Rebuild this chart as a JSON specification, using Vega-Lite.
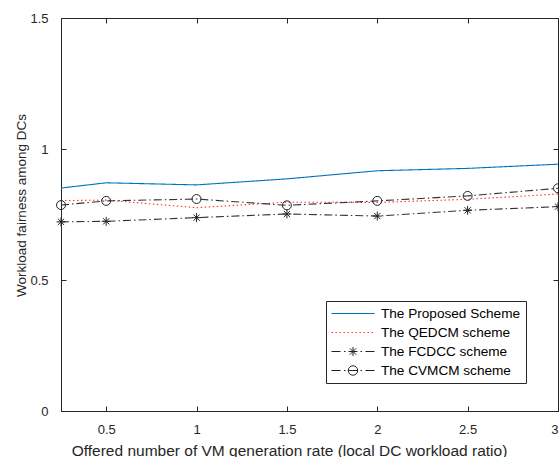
{
  "$schema": "https://vega.github.io/schema/vega-lite/v6.json",
  "autosize": {"type": "none"},
  "padding": {"left": 61, "top": 18, "right": 1, "bottom": 46},
  "width": 497,
  "height": 393,
  "background": "white",
  "config": {
    "font": "Liberation Sans",
    "view": {"stroke": "#262626", "strokeWidth": 1},
    "axis": {
      "grid": false,
      "domainColor": "#262626",
      "tickColor": "#262626",
      "labelColor": "#262626",
      "titleColor": "#262626",
      "labelFont": "Liberation Sans",
      "titleFont": "Liberation Sans",
      "labelFontSize": 13,
      "titleFontWeight": "normal",
      "tickSize": -5,
      "tickWidth": 1,
      "domainWidth": 1
    },
    "legend": {
      "labelFont": "Liberation Sans",
      "labelFontSize": 13.6,
      "labelColor": "#000000",
      "symbolOpacity": 1,
      "symbolStrokeWidth": 1,
      "symbolSize": 1849,
      "clipHeight": 15,
      "labelOffset": 6,
      "padding": 5,
      "rowPadding": 4,
      "fillColor": "white",
      "strokeColor": "#262626"
    }
  },
  "data": {
    "values": [
      {"series": "The Proposed Scheme", "rate": 0.25, "fairness": 0.851},
      {"series": "The Proposed Scheme", "rate": 0.5, "fairness": 0.871},
      {"series": "The Proposed Scheme", "rate": 1, "fairness": 0.863},
      {"series": "The Proposed Scheme", "rate": 1.5, "fairness": 0.886},
      {"series": "The Proposed Scheme", "rate": 2, "fairness": 0.917},
      {"series": "The Proposed Scheme", "rate": 2.5, "fairness": 0.926},
      {"series": "The Proposed Scheme", "rate": 3, "fairness": 0.942},
      {"series": "The QEDCM scheme", "rate": 0.25, "fairness": 0.803},
      {"series": "The QEDCM scheme", "rate": 0.5, "fairness": 0.805},
      {"series": "The QEDCM scheme", "rate": 1, "fairness": 0.776},
      {"series": "The QEDCM scheme", "rate": 1.5, "fairness": 0.797},
      {"series": "The QEDCM scheme", "rate": 2, "fairness": 0.796},
      {"series": "The QEDCM scheme", "rate": 2.5, "fairness": 0.808},
      {"series": "The QEDCM scheme", "rate": 3, "fairness": 0.828},
      {"series": "The FCDCC scheme", "rate": 0.25, "fairness": 0.722},
      {"series": "The FCDCC scheme", "rate": 0.5, "fairness": 0.724},
      {"series": "The FCDCC scheme", "rate": 1, "fairness": 0.738},
      {"series": "The FCDCC scheme", "rate": 1.5, "fairness": 0.752},
      {"series": "The FCDCC scheme", "rate": 2, "fairness": 0.744},
      {"series": "The FCDCC scheme", "rate": 2.5, "fairness": 0.766},
      {"series": "The FCDCC scheme", "rate": 3, "fairness": 0.780},
      {"series": "The CVMCM scheme", "rate": 0.25, "fairness": 0.786},
      {"series": "The CVMCM scheme", "rate": 0.5, "fairness": 0.802},
      {"series": "The CVMCM scheme", "rate": 1, "fairness": 0.809},
      {"series": "The CVMCM scheme", "rate": 1.5, "fairness": 0.785},
      {"series": "The CVMCM scheme", "rate": 2, "fairness": 0.802},
      {"series": "The CVMCM scheme", "rate": 2.5, "fairness": 0.821},
      {"series": "The CVMCM scheme", "rate": 3, "fairness": 0.850}
    ]
  },
  "resolve": {
    "scale": {"shape": "independent", "stroke": "independent"},
    "axis": {"x": "independent", "y": "independent"}
  },
  "layer": [
    {
      "mark": {"type": "line", "strokeWidth": 1.1, "clip": true},
      "encoding": {
        "x": {
          "field": "rate", "type": "quantitative",
          "scale": {"domain": [0.25, 3], "nice": false, "zero": false},
          "axis": {
            "values": [0.5, 1, 1.5, 2, 2.5, 3],
            "format": "~g",
            "labelPadding": 17,
            "title": "Offered number of VM generation rate (local DC workload ratio)",
            "titleFontSize": 15.5,
            "titlePadding": 7,
            "titleX": 228
          }
        },
        "y": {
          "field": "fairness", "type": "quantitative",
          "scale": {"domain": [0, 1.5], "nice": false, "zero": false},
          "axis": {
            "values": [0, 0.5, 1, 1.5],
            "format": "~g",
            "labelPadding": 18,
            "title": "Workload fairness among DCs",
            "titleFontSize": 13.5,
            "titlePadding": 1,
            "titleY": 187
          }
        },
        "color": {
          "field": "series", "type": "nominal", "legend": null,
          "scale": {
            "domain": ["The Proposed Scheme", "The QEDCM scheme", "The FCDCC scheme", "The CVMCM scheme"],
            "range": ["#0072BD", "#ff3333", "#333333", "#333333"]
          }
        },
        "strokeDash": {
          "field": "series", "type": "nominal", "legend": null,
          "scale": {
            "domain": ["The Proposed Scheme", "The QEDCM scheme", "The FCDCC scheme", "The CVMCM scheme"],
            "range": [[1, 0], [1.5, 2.5], [8, 3, 1.5, 3], [8, 3, 1.5, 3]]
          }
        }
      }
    },
    {
      "transform": [{"filter": {"field": "series", "oneOf": ["The FCDCC scheme", "The CVMCM scheme"]}}],
      "mark": {"type": "point", "filled": false, "stroke": "#222222", "strokeWidth": 1, "size": 80, "opacity": 1},
      "encoding": {
        "x": {"field": "rate", "type": "quantitative", "axis": null},
        "y": {"field": "fairness", "type": "quantitative", "axis": null},
        "shape": {
          "field": "series", "type": "nominal", "legend": null,
          "scale": {
            "domain": ["The FCDCC scheme", "The CVMCM scheme"],
            "range": ["M0,-1V1M-1,0H1M-0.7,-0.7L0.7,0.7M-0.7,0.7L0.7,-0.7", "circle"]
          }
        }
      }
    },
    {
      "mark": {"type": "point", "filled": false, "opacity": 0, "strokeWidth": 1},
      "encoding": {
        "x": {
          "field": "rate", "type": "quantitative",
          "axis": {"orient": "top", "values": [0.5, 1, 1.5, 2, 2.5, 3], "labels": false, "title": null, "domain": false}
        },
        "y": {
          "field": "fairness", "type": "quantitative",
          "axis": {"orient": "right", "values": [0, 0.5, 1, 1.5], "labels": false, "title": null, "domain": false}
        },
        "shape": {
          "field": "series", "type": "nominal",
          "scale": {
            "domain": ["The Proposed Scheme", "The QEDCM scheme", "The FCDCC scheme", "The CVMCM scheme"],
            "range": [
              "M-1,0H1",
              "M-1,0H-0.93M-0.814,0H-0.744M-0.628,0H-0.558M-0.442,0H-0.372M-0.256,0H-0.186M-0.07,0H0M0.116,0H0.186M0.302,0H0.372M0.488,0H0.558M0.674,0H0.744M0.86,0H0.93",
              "M-1,0H-0.581M-0.419,0H-0.349M0.349,0H0.419M0.581,0H1M0,-0.209V0.209M-0.209,0H0.209M-0.148,-0.148L0.148,0.148M-0.148,0.148L0.148,-0.148",
              "M-1,0H-0.581M-0.419,0H-0.349M0.349,0H0.419M0.581,0H1M-0.22,0H0.22M0.22,0A0.22,0.22 0 1,1 -0.22,0A0.22,0.22 0 1,1 0.22,0"
            ]
          },
          "legend": {"title": null, "orient": "none", "legendX": 265, "legendY": 283}
        },
        "stroke": {
          "field": "series", "type": "nominal",
          "scale": {
            "domain": ["The Proposed Scheme", "The QEDCM scheme", "The FCDCC scheme", "The CVMCM scheme"],
            "range": ["#0072BD", "#ff3333", "#222222", "#222222"]
          },
          "legend": {"title": null, "orient": "none", "legendX": 265, "legendY": 283}
        }
      }
    }
  ]
}
